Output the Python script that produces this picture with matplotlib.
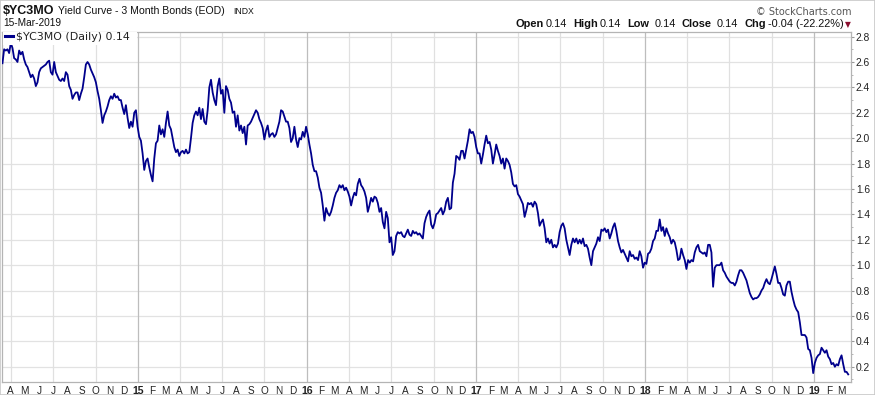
import matplotlib
matplotlib.use('Agg')
import matplotlib.pyplot as plt
import numpy as np
import pandas as pd
from matplotlib.patches import Rectangle

# ---------------- data ----------------
start_date = '2014-03-14'
end_date = '2019-03-15'

yld_2014_15 = [2.59, 2.70, 2.69, 2.70, 2.67, 2.75, 2.71, 2.63, 2.62, 2.60, 2.69, 2.66, 2.68, 2.62, 2.58,
               2.56, 2.52, 2.48, 2.50, 2.47, 2.41, 2.44, 2.52, 2.55, 2.56, 2.57, 2.58, 2.60, 2.61, 2.52,
               2.50, 2.60, 2.52, 2.49, 2.46, 2.45, 2.47, 2.45, 2.52, 2.50, 2.41, 2.38, 2.31, 2.34, 2.36,
               2.36, 2.30, 2.35, 2.39, 2.48, 2.58, 2.60, 2.58, 2.54, 2.51, 2.48, 2.44, 2.37, 2.31, 2.22,
               2.12, 2.18, 2.21, 2.25, 2.30, 2.33, 2.31, 2.35, 2.32, 2.33, 2.30, 2.30, 2.24, 2.19, 2.26,
               2.16, 2.08, 2.13, 2.09, 2.20, 2.22, 2.09, 2.01, 1.98, 1.88, 1.75, 1.82, 1.84, 1.77, 1.71,
               1.66, 1.84, 1.96, 1.98, 2.10, 2.03, 2.07, 2.01, 2.12, 2.21, 2.10, 2.07, 2.00, 1.93, 1.89,
               1.91, 1.86, 1.89, 1.90, 1.88, 1.91, 1.88, 1.89, 2.00, 2.12, 2.18, 2.21, 2.18, 2.24, 2.15,
               2.23, 2.13, 2.11, 2.22, 2.40, 2.46, 2.36]

yld_2015_16 = [2.30, 2.26, 2.41, 2.47, 2.35, 2.38, 2.20, 2.41, 2.38, 2.31, 2.28, 2.20, 2.21, 2.09, 2.18,
               2.06, 2.10, 2.04, 2.09, 1.95, 2.10, 2.11, 2.13, 2.16, 2.19, 2.22, 2.20, 2.15, 2.12, 2.08,
               1.99, 2.06, 2.10, 2.01, 2.03, 2.04, 2.01, 2.03, 2.08, 2.13, 2.22, 2.21, 2.17, 2.13, 2.13,
               2.08, 1.97, 2.00, 2.09, 1.99, 1.93, 2.00, 1.99, 2.05, 2.01, 2.09, 2.03, 1.95, 1.88, 1.79,
               1.74, 1.74, 1.69, 1.61, 1.57, 1.47, 1.35, 1.45, 1.41, 1.39, 1.42, 1.47, 1.53, 1.57, 1.59,
               1.63, 1.61, 1.63, 1.59, 1.61, 1.58, 1.54, 1.47, 1.53, 1.57, 1.55, 1.64, 1.68, 1.63, 1.61,
               1.58, 1.53, 1.42, 1.47, 1.53, 1.50, 1.54, 1.53, 1.49, 1.42, 1.45, 1.34, 1.29, 1.42, 1.37,
               1.18, 1.22, 1.08, 1.11, 1.23, 1.26, 1.25, 1.26, 1.23, 1.22, 1.25, 1.28, 1.24, 1.23, 1.27,
               1.25, 1.26, 1.24, 1.25, 1.23, 1.21, 1.33, 1.38, 1.41]

yld_2016_18 = [1.43, 1.32, 1.29, 1.33, 1.40, 1.41, 1.43, 1.45, 1.40, 1.43, 1.50, 1.53, 1.44, 1.45, 1.65,
               1.72, 1.86, 1.85, 1.83, 1.90, 1.90, 1.84, 1.91, 1.98, 2.07, 2.04, 2.05, 2.01, 1.93, 1.88,
               1.88, 1.80, 1.87, 1.95, 2.02, 1.96, 1.97, 1.91, 1.80, 1.87, 1.95, 1.90, 1.86, 1.80, 1.84,
               1.76, 1.84, 1.82, 1.79, 1.73, 1.64, 1.62, 1.63, 1.56, 1.54, 1.51, 1.48, 1.38, 1.43, 1.49,
               1.48, 1.49, 1.46, 1.50, 1.48, 1.41, 1.31, 1.34, 1.36, 1.29, 1.18, 1.21, 1.17, 1.20, 1.14,
               1.16, 1.14, 1.17, 1.26, 1.31, 1.33, 1.29, 1.20, 1.14, 1.08, 1.16, 1.21, 1.18, 1.21, 1.17,
               1.20, 1.17, 1.21, 1.15, 1.16, 1.13, 1.06, 1.00, 1.11, 1.14, 1.17, 1.22, 1.19, 1.28, 1.27,
               1.29, 1.26, 1.28, 1.21, 1.25, 1.30, 1.33, 1.27, 1.19, 1.14, 1.10, 1.12, 1.09, 1.06, 1.03,
               1.11, 1.07, 1.08, 1.05, 1.06, 1.04, 1.11, 1.07, 0.98]

yld_2018_19 = [1.02, 1.01, 1.09, 1.10, 1.13, 1.19, 1.21, 1.27, 1.27, 1.36, 1.27, 1.30, 1.23, 1.29, 1.25,
               1.22, 1.17, 1.20, 1.18, 1.12, 1.04, 1.05, 1.13, 1.08, 1.04, 0.97, 1.04, 1.02, 1.04, 1.03,
               1.10, 1.14, 1.16, 1.11, 1.10, 1.09, 1.10, 1.07, 1.16, 1.16, 1.10, 0.83, 0.98, 1.00, 1.00,
               1.00, 1.02, 0.96, 0.94, 0.91, 0.89, 0.87, 0.86, 0.86, 0.84, 0.87, 0.92, 0.96, 0.96, 0.94,
               0.91, 0.88, 0.83, 0.78, 0.75, 0.73, 0.74, 0.74, 0.75, 0.77, 0.80, 0.82, 0.86, 0.89, 0.86,
               0.85, 0.89, 0.94, 0.99, 0.93, 0.86, 0.86, 0.82, 0.77, 0.76, 0.84, 0.87, 0.87, 0.79, 0.73,
               0.68, 0.65, 0.63, 0.55, 0.45, 0.45, 0.45, 0.43, 0.34, 0.33, 0.27, 0.15, 0.23, 0.27, 0.29,
               0.30, 0.35, 0.33, 0.31, 0.33, 0.28, 0.26, 0.22, 0.23, 0.20, 0.22, 0.21, 0.26, 0.29, 0.22,
               0.16, 0.16, 0.14]

y_ticks = [0.2, 0.4, 0.6, 0.8, 1.0, 1.2, 1.4, 1.6, 1.8, 2.0, 2.2, 2.4, 2.6, 2.8]
month_labels = ['A', 'M', 'J', 'J', 'A', 'S', 'O', 'N', 'D',
                '15', 'F', 'M', 'A', 'M', 'J', 'J', 'A', 'S', 'O', 'N', 'D',
                '16', 'F', 'M', 'A', 'M', 'J', 'J', 'A', 'S', 'O', 'N', 'D',
                '17', 'F', 'M', 'A', 'M', 'J', 'J', 'A', 'S', 'O', 'N', 'D',
                '18', 'F', 'M', 'A', 'M', 'J', 'J', 'A', 'S', 'O', 'N', 'D',
                '19', 'F', 'M']
symbol = '$YC3MO'
title = 'Yield Curve - 3 Month Bonds (EOD)'
date_str = '15-Mar-2019'
ohlc = [('Open', '0.14'), ('High', '0.14'), ('Low', '0.14'), ('Close', '0.14'), ('Chg', '-0.04 (-22.22%)')]
last_value = '0.14'

values = np.array(yld_2014_15 + yld_2015_16 + yld_2016_18 + yld_2018_19)
dates = pd.date_range(start_date, end_date, periods=len(values))
month_starts = pd.date_range('2014-04-01', '2019-03-01', freq='MS')
quarter_starts = pd.date_range('2014-04-01', '2019-01-01', freq='QS')

# ---------------- figure ----------------
W, H = 875, 395
fig = plt.figure(figsize=(W / 100, H / 100), dpi=100)
fig.patch.set_facecolor('white')
fig.add_artist(Rectangle((0, 0), 1, 1, transform=fig.transFigure, fill=False,
                         edgecolor='#c8c8c8', lw=1.2))

left, right, top, bottom = 2, 851, 31.5, 382
ax = fig.add_axes([left / W, 1 - bottom / H, (right - left) / W, (bottom - top) / H])

FONT = 'Liberation Sans'
line_col = '#00008c'

# grid
for v in y_ticks:
    ax.axhline(v, color='#e2e2e2', lw=0.9, zorder=0)
for d in quarter_starts:
    ax.axvline(d, color='#bdbdbd' if d.month == 1 else '#e0e0e0', lw=0.9, zorder=0)

ax.plot(dates, values, color=line_col, lw=1.3, zorder=3, solid_joinstyle='round')

ax.set_xlim(pd.Timestamp('2014-03-13'), pd.Timestamp('2019-03-21'))
ax.set_ylim(0.08, 2.84)

for s in ax.spines.values():
    s.set_color('#b4b4b4')
    s.set_linewidth(0.9)

ax.yaxis.tick_right()
ax.set_yticks(y_ticks)
ax.set_yticklabels([f'{v:.1f}' for v in y_ticks], fontfamily=FONT, fontsize=7.4, color='#222222')
ax.set_yticks(np.arange(0.1, 2.84, 0.1), minor=True)
ax.tick_params(axis='y', which='major', length=2, width=0.8, color='#999999', pad=1.5)
ax.tick_params(axis='y', which='minor', length=1.2, width=0.6, color='#aaaaaa')

ax.set_xticks(month_starts)
ax.set_xticklabels(month_labels, fontfamily=FONT, fontsize=7.2, color='#222222')
for lab, txt in zip(ax.get_xticklabels(), month_labels):
    if txt.isdigit():
        lab.set_fontweight('bold')
        lab.set_fontsize(7.6)
ax.tick_params(axis='x', length=0, pad=3)

# legend box
legend_bg = Rectangle((2.5 / W, 1 - 44.5 / H), 134 / W, 12.5 / H, transform=fig.transFigure,
                      facecolor='white', edgecolor='none', zorder=5)
fig.add_artist(legend_bg)
fig.add_artist(plt.Line2D([5 / W, 13 / W], [1 - 35.5 / H, 1 - 35.5 / H], transform=fig.transFigure,
                          color=line_col, lw=2.2, zorder=6))
fig.text(16.5 / W, 1 - 40 / H, f'{symbol} (Daily) {last_value}', fontfamily='DejaVu Sans',
         fontsize=7.9, color='#222222', va='baseline', ha='left', zorder=7, parse_math=False)

# header left
fig.text(3 / W, 1 - 14 / H, symbol, fontfamily=FONT, fontweight='bold', fontsize=9.0,
         color='#111111', va='baseline', parse_math=False)
fig.text(58 / W, 1 - 14 / H, title, fontfamily=FONT, fontsize=7.6, color='#111111', va='baseline')
fig.text(233 / W, 1 - 14 / H, 'INDX', fontfamily=FONT, fontsize=6.2, color='#111111', va='baseline')
fig.text(3 / W, 1 - 26.5 / H, date_str, fontfamily=FONT, fontsize=7.3, color='#111111', va='baseline')

# header right
fig.text(851.5 / W, 1 - 15 / H, '\u00a9 StockCharts.com', fontfamily='DejaVu Sans', fontsize=7.0,
         color='#555555', va='baseline', ha='right')
label_x = [515, 573.3, 627.7, 681.7, 744.3]
value_x = [545.7, 600, 655, 716.7, 768.3]
for (lab, val), lx, vx in zip(ohlc, label_x, value_x):
    fig.text(lx / W, 1 - 27.3 / H, lab, fontfamily=FONT, fontweight='bold', fontsize=7.9,
             color='#111111', va='baseline')
    fig.text(vx / W, 1 - 27.3 / H, val, fontfamily=FONT, fontsize=7.9, color='#111111', va='baseline')
fig.text(847.5 / W, 1 - 27 / H, '\u25bc', fontfamily='DejaVu Sans', fontsize=5.5,
         color='#8b1030', va='baseline', ha='center')

fig.savefig('out.png', dpi=100)
